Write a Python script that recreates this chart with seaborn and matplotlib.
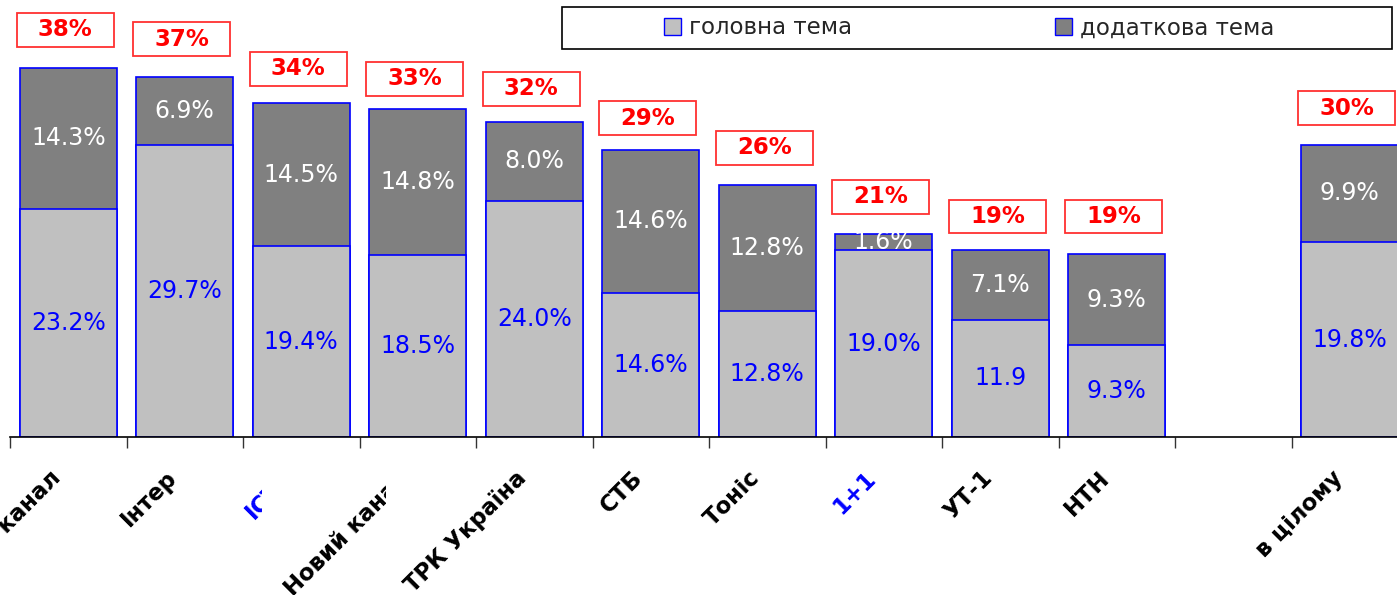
import matplotlib
matplotlib.use("Agg")
import matplotlib.pyplot as plt
import matplotlib.transforms as mtransforms
import seaborn as sns
import pandas as pd
from matplotlib.patches import Patch, Rectangle
from matplotlib.transforms import Bbox

# Data
channels = ["5 канал", "Інтер", "ICTV", "Новий канал", "ТРК Україна", "СТБ",
            "Тоніс", "1+1", "УТ-1", "НТН", " ", "в цілому"]
main_topic = [23.2, 29.7, 19.4, 18.5, 24.0, 14.6, 12.8, 19.0, 11.9, 9.3, None, 19.8]
extra_topic = [14.3, 6.9, 14.5, 14.8, 8.0, 14.6, 12.8, 1.6, 7.1, 9.3, None, 9.9]
main_labels = ["23.2%", "29.7%", "19.4%", "18.5%", "24.0%", "14.6%", "12.8%",
               "19.0%", "11.9", "9.3%", "", "19.8%"]
total_pct = [38, 37, 34, 33, 32, 29, 26, 21, 19, 19, None, 30]
blue_labels = ["ICTV", "1+1"]

df = pd.DataFrame({"channel": channels, "main": main_topic, "extra": extra_topic,
                   "total_pct": total_pct})
df["total"] = df["main"] + df["extra"]

sns.set_style("white")
plt.rcParams["font.family"] = ["DejaVu Sans"]

fig = plt.figure(figsize=(13.97, 5.95), dpi=100)
ax = fig.add_axes([10 / 1397, 158 / 595, 1398 / 1397, 433 / 595])

light = "#C0C0C0"
dark = "#808080"
edge = "#0000FF"

sns.barplot(data=df, x="channel", y="total", order=channels, color=dark,
            width=0.83, edgecolor=edge, linewidth=1.2, saturation=1, ax=ax)
sns.barplot(data=df, x="channel", y="main", order=channels, color=light,
            width=0.83, edgecolor=edge, linewidth=1.2, saturation=1, ax=ax)

ax.set_xlim(-0.5, len(channels) - 0.5)
ax.set_ylim(0, 44)
ax.set_xlabel("")
ax.set_ylabel("")
ax.set_yticks([])
for s in ["left", "right", "top"]:
    ax.spines[s].set_visible(False)
ax.spines["bottom"].set_color("black")
ax.spines["bottom"].set_linewidth(1.2)

# ticks at category boundaries
ax.set_xticks(range(len(channels)))
ax.set_xticks([i - 0.5 for i in range(len(channels) + 1)], minor=True)
ax.tick_params(axis="x", which="minor", bottom=True, length=8, width=1,
               color="#333333", direction="out")
ax.tick_params(axis="x", which="major", bottom=True, length=0, pad=27)
ax.set_xticklabels(channels, rotation=45, ha="right", va="center",
                   rotation_mode="anchor", fontsize=16.3, fontweight="bold", color="black")
shift = mtransforms.ScaledTranslation(-11 / 100, 0, fig.dpi_scale_trans)
for lbl in ax.get_xticklabels():
    lbl.set_transform(lbl.get_transform() + shift)
    if lbl.get_text() in blue_labels:
        lbl.set_color("#0000FF")

# clipped labels as in the original
clips = {"ICTV": 262, "Новий канал": 386}
for lbl in ax.get_xticklabels():
    if lbl.get_text() in clips:
        lbl.set_clip_on(True)
        lbl.set_clip_box(Bbox.from_extents(0, 0, clips[lbl.get_text()], 595))

# value labels
for i, row in df.iterrows():
    if pd.isna(row["main"]):
        continue
    ax.text(i, row["main"] / 2, main_labels[i], ha="center", va="center",
            color="#0000FF", fontsize=17)
    ax.text(i, row["main"] + row["extra"] / 2, f"{row['extra']:.1f}%", ha="center",
            va="center", color="white", fontsize=17)
    yc = row["total_pct"] + 3.4
    ax.add_patch(Rectangle((i - 0.44, yc - 1.72), 0.83, 3.45, facecolor="white",
                           edgecolor="#FF3030", linewidth=1.3, clip_on=False, zorder=4))
    ax.text(i - 0.025, yc, f"{row['total_pct']:.0f}%", ha="center", va="center",
            color="#FF0000", fontsize=16.5, fontweight="bold", zorder=5, clip_on=False)

# legend
fig.patches.append(Rectangle((562 / 1397, 1 - 49 / 595), 830 / 1397, 42 / 595,
                             transform=fig.transFigure, facecolor="white",
                             edgecolor="black", linewidth=1.2, zorder=5))
handles = [Patch(facecolor=light, edgecolor=edge, label="головна тема"),
           Patch(facecolor=dark, edgecolor=edge, label="додаткова тема")]
fig.legend(handles=handles, loc="center", bbox_to_anchor=(969 / 1397, 1 - 28 / 595),
           ncol=2, frameon=False, fontsize=16.5, handlelength=0.75, handleheight=0.75,
           handletextpad=0.35, columnspacing=8.85)

fig.savefig("out.png", dpi=100)
